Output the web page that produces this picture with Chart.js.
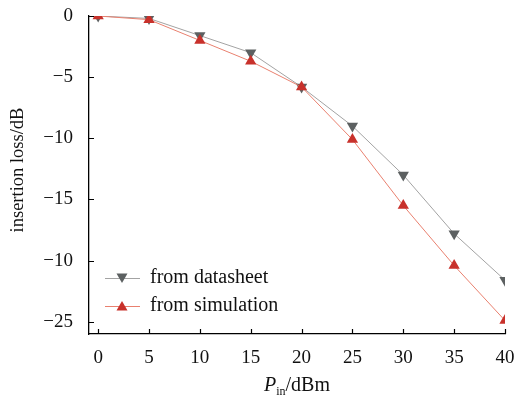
<!DOCTYPE html>
<html><head><meta charset="utf-8">
<script src="https://cdn.jsdelivr.net/npm/chart.js@4"></script>
<style>html,body{margin:0;padding:0;background:#fff}#wrap{width:516px;height:403px;position:relative}</style>
</head><body><div id="wrap"><canvas id="c"></canvas></div>
<script>
const xValues = [0, 5, 10, 15, 20, 25, 30, 35, 40];
const datasheet = [0, -0.2, -1.6, -3.0, -5.8, -9.0, -13.0, -17.8, -21.6];
const simulation = [0, -0.3, -2.0, -3.7, -5.8, -10.1, -15.5, -20.4, -24.9];
const yTickValues = [0, -5, -10, -15, -20, -25];
const yTickLabels = ['0', '\u22125', '\u221210', '\u221215', '\u221210', '\u221225'];
const seriesNames = ['from datasheet', 'from simulation'];

const FONT = '"Liberation Serif", "Times New Roman", serif';
const grayLine = '#a3a3a3', grayMark = '#5c6061';
const redLine = '#e9806f', redMark = '#c8312b';

const extras = {
  id: 'extras',
  afterDraw(chart) {
    const ctx = chart.ctx, xs = chart.scales.x, ys = chart.scales.y;
    const a = chart.chartArea;
    ctx.save();
    ctx.strokeStyle = '#000'; ctx.lineWidth = 1.2;
    ctx.beginPath();
    yTickValues.forEach(v => { const p = Math.round(ys.getPixelForValue(v)) + 0.5; ctx.moveTo(a.left, p); ctx.lineTo(a.left + 5, p); });
    xValues.forEach(v => { const p = Math.round(xs.getPixelForValue(v)) + 0.5; ctx.moveTo(p, a.bottom); ctx.lineTo(p, a.bottom - 5); });
    ctx.stroke();
    ctx.fillStyle = '#111';
    ctx.font = '18.5px ' + FONT;
    ctx.textAlign = 'center'; ctx.textBaseline = 'middle';
    ctx.save(); ctx.translate(18, 170); ctx.rotate(-Math.PI / 2);
    ctx.fillText('insertion loss/dB', 0, 0); ctx.restore();
    const cx = 297, by = 391;
    ctx.textAlign = 'left'; ctx.textBaseline = 'alphabetic';
    ctx.font = 'italic 20px ' + FONT; const wP = ctx.measureText('P').width;
    ctx.font = '12px ' + FONT; const wi = ctx.measureText('in').width;
    ctx.font = '20px ' + FONT; const wd = ctx.measureText('/dBm').width;
    let x0 = cx - (wP + wi + wd) / 2;
    ctx.font = 'italic 20px ' + FONT; ctx.fillText('P', x0, by); x0 += wP;
    ctx.font = '12px ' + FONT; ctx.fillText('in', x0, by + 4); x0 += wi;
    ctx.font = '20px ' + FONT; ctx.fillText('/dBm', x0, by);
    const rows = [
      { name: seriesNames[0], line: grayLine, mark: grayMark, down: true, y: 278 },
      { name: seriesNames[1], line: redLine, mark: redMark, down: false, y: 306 }
    ];
    rows.forEach(r => {
      ctx.strokeStyle = r.line; ctx.lineWidth = 1;
      ctx.beginPath(); ctx.moveTo(105, r.y + 0.5); ctx.lineTo(140, r.y + 0.5); ctx.stroke();
      ctx.fillStyle = r.mark; ctx.beginPath();
      const s = 5.5;
      if (r.down) { ctx.moveTo(122 - s, r.y - s * 0.8); ctx.lineTo(122 + s, r.y - s * 0.8); ctx.lineTo(122, r.y + s * 0.9); }
      else { ctx.moveTo(122 - s, r.y + s * 0.8); ctx.lineTo(122 + s, r.y + s * 0.8); ctx.lineTo(122, r.y - s * 0.9); }
      ctx.closePath(); ctx.fill();
      ctx.fillStyle = '#111'; ctx.font = '20px ' + FONT; ctx.textAlign = 'left'; ctx.textBaseline = 'middle';
      ctx.fillText(r.name, 150, r.y);
    });
    ctx.restore();
  }
};

new Chart(document.getElementById('c'), {
  type: 'line',
  data: {
    datasets: [
      { label: seriesNames[0], data: xValues.map((x, i) => ({ x, y: datasheet[i] })), borderColor: grayLine, borderWidth: 1,
        pointStyle: 'triangle', pointRotation: 180, pointRadius: 6.5, pointBackgroundColor: grayMark, pointBorderColor: grayMark, pointBorderWidth: 0, order: 2 },
      { label: seriesNames[1], data: xValues.map((x, i) => ({ x, y: simulation[i] })), borderColor: redLine, borderWidth: 1,
        pointStyle: 'triangle', pointRadius: 6.5, pointBackgroundColor: redMark, pointBorderColor: redMark, pointBorderWidth: 0, order: 1 }
    ]
  },
  options: {
    responsive: true, maintainAspectRatio: false, animation: false,
    layout: { padding: { top: 16, right: 11, left: 0, bottom: 0 } },
    plugins: { legend: { display: false }, tooltip: { enabled: false } },
    scales: {
      x: {
        type: 'linear', min: -0.9, max: 40,
        afterBuildTicks: s => { s.ticks = xValues.map(v => ({ value: v })); },
        afterFit: s => { s.height = 69; s.paddingLeft = 0; s.paddingRight = 0; },
        grid: { display: false, drawTicks: false },
        border: { display: true, color: '#000', width: 1.3 },
        ticks: { color: '#111', font: { family: FONT, size: 19 }, padding: 13, maxRotation: 0, autoSkip: false }
      },
      y: {
        type: 'linear', min: -26, max: 0,
        afterBuildTicks: s => { s.ticks = yTickValues.map(v => ({ value: v })); },
        afterFit: s => { s.width = 89; s.paddingTop = 0; s.paddingBottom = 0; },
        grid: { display: false, drawTicks: false },
        border: { display: true, color: '#000', width: 1.3 },
        ticks: { color: '#111', font: { family: FONT, size: 19 }, padding: 16, autoSkip: false,
          callback: v => { const i = yTickValues.indexOf(v); return i >= 0 ? yTickLabels[i] : ''; } }
      }
    }
  },
  plugins: [extras]
});
</script></body></html>
